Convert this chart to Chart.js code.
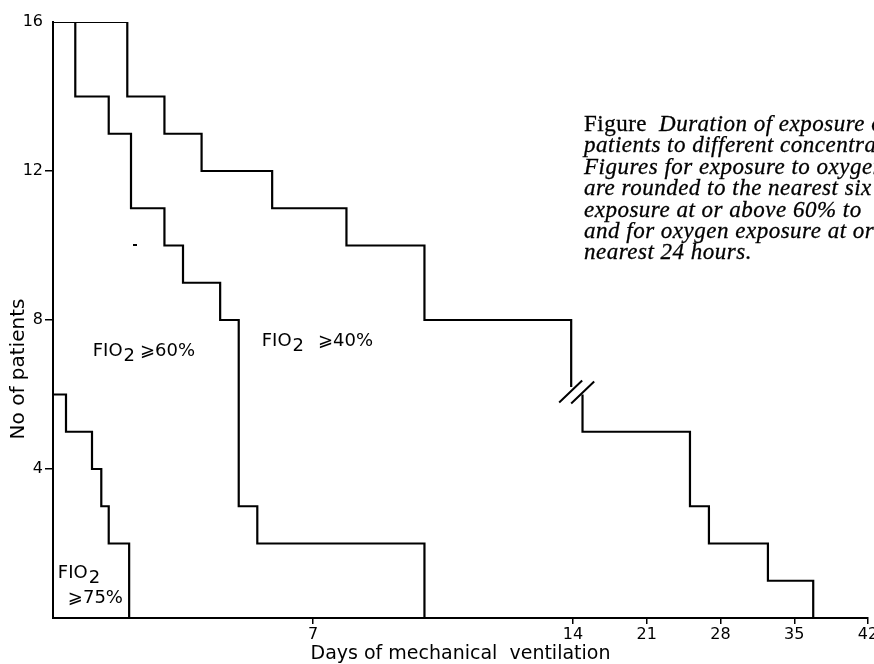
<!DOCTYPE html>
<html>
<head>
<meta charset="utf-8">
<script src="https://cdn.jsdelivr.net/npm/chart.js@4.4.0/dist/chart.umd.min.js"></script>
<style>
  html, body { margin: 0; padding: 0; background: #fff; overflow: hidden; }
  #wrap { width: 874px; height: 664px; }
</style>
</head>
<body>
<div id="wrap"><canvas id="chart-fio2" width="874" height="664"></canvas></div>
<script>
// Days of mechanical ventilation at which the number of patients steps down
const days75 = [0, 0.35, 1.05, 1.3, 1.5, 2.05];
const n75 = [6, 5, 4, 3, 2, 0];
const days60 = [0, 0.6, 1.5, 2.1, 3, 3.5, 4.5, 5, 5.5, 10];
const n60 = [16, 14, 13, 11, 10, 9, 8, 3, 2, 0];
// null entry = gap where the axis is broken after 14 days
const days40 = [0, 2, 3, 4, 5.9, 7.9, 10, 13.95, null, 14.9, 14.9, 25.1, 26.9, 32.5, 36.8];
const n40 = [16, 14, 13, 12, 11, 10, 8, 6.2, null, 6.0, 5, 3, 2, 1, 0];

const xTicks = [7, 14, 21, 28, 35, 42];
const yTicks = [4, 8, 12, 16];

const captionLines = [
  'Duration of exposure of',
  'patients to different concentrations',
  'Figures for exposure to oxygen',
  'are rounded to the nearest six hours',
  'exposure at or above 60% to',
  'and for oxygen exposure at or above',
  'nearest 24 hours.'
];

// beyond 14 days the axis is compressed
const breakDay = 14;
const tailScale = 0.2836;
function toAxis(d) {
  return d <= breakDay ? d : breakDay + (d - breakDay) * tailScale;
}

function steps(days, counts) {
  return days.map((d, i) => ({ x: d === null ? null : toAxis(d), y: counts[i] }));
}

const lineStyle = { borderColor: '#000', borderWidth: 2.2, pointRadius: 0, stepped: 'before', fill: false, spanGaps: false };

const labelsPlugin = {
  id: 'labels',
  afterDraw(chart) {
    const ctx = chart.ctx;
    const xs = chart.scales.x, ys = chart.scales.y;
    const px = d => xs.getPixelForValue(toAxis(d));
    const py = v => ys.getPixelForValue(v);
    ctx.save();
    ctx.fillStyle = '#000';
    ctx.strokeStyle = '#000';

    // y axis title
    ctx.font = '20px "DejaVu Sans"';
    ctx.textAlign = 'center';
    ctx.textBaseline = 'middle';
    ctx.save();
    ctx.translate(19, 369);
    ctx.rotate(-Math.PI / 2);
    ctx.fillText('No of patients', 0, 0);
    ctx.restore();

    // FIO2 labels
    ctx.textAlign = 'left';
    function fio(x, y, rest, gap) {
      ctx.font = '18px "DejaVu Sans"';
      ctx.fillText('FIO', x, y);
      let w = ctx.measureText('FIO').width;
      ctx.fillText('2', x + w + 1, y + 5);
      w += ctx.measureText('2').width + 1;
      if (rest) ctx.fillText(rest, x + w + gap, y);
    }
    fio(px(1.07), py(7.15), '⩾60%', 5);
    fio(px(5.62), py(7.42), '⩾40%', 14);
    fio(px(0.13), py(1.21), '', 0);
    ctx.fillText('⩾75%', px(0.4), py(0.54));

    // stray print mark
    ctx.fillRect(133, 244, 4, 2);

    // axis break marks
    const bx = px(13.95), by = py(6.0);
    ctx.lineWidth = 2;
    ctx.beginPath();
    ctx.moveTo(bx - 12, by + 8); ctx.lineTo(bx + 11, by - 14);
    ctx.moveTo(bx, by + 9); ctx.lineTo(bx + 23, by - 13);
    ctx.stroke();

    // caption
    const cx = 584;
    ctx.textBaseline = 'middle';
    ctx.lineWidth = 0.3;
    ctx.letterSpacing = '0.5px';
    ctx.font = '23px "Liberation Serif"';
    ctx.fillText('Figure', cx, 125);
    ctx.strokeText('Figure', cx, 125);
    const fw = ctx.measureText('Figure').width;
    ctx.font = 'italic 23px "Liberation Serif"';
    captionLines.forEach((t, i) => {
      const x = i === 0 ? cx + fw + 12 : cx;
      const y = 125 + i * 21.4;
      ctx.fillText(t, x, y);
      ctx.strokeText(t, x, y);
    });
    ctx.restore();
  }
};

new Chart(document.getElementById('chart-fio2'), {
  type: 'line',
  data: {
    datasets: [
      Object.assign({ label: 'FIO2 >= 75%', data: steps(days75, n75) }, lineStyle),
      Object.assign({ label: 'FIO2 >= 60%', data: steps(days60, n60) }, lineStyle),
      Object.assign({ label: 'FIO2 >= 40%', data: steps(days40, n40) }, lineStyle)
    ]
  },
  options: {
    responsive: false,
    animation: false,
    devicePixelRatio: 1,
    layout: { padding: { left: 0, right: 6, top: 22, bottom: 0 } },
    plugins: { legend: { display: false }, tooltip: { enabled: false } },
    scales: {
      x: {
        type: 'linear',
        min: 0,
        max: toAxis(42),
        border: { color: '#000', width: 2 },
        grid: { drawOnChartArea: false, color: '#000', lineWidth: 1.5, tickLength: 6 },
        afterBuildTicks: s => { s.ticks = xTicks.map(d => ({ value: toAxis(d) })); },
        afterFit: s => { s.height = 46; s.paddingLeft = 0; s.paddingRight = 0; },
        ticks: {
          color: '#000',
          font: { family: 'DejaVu Sans', size: 16 },
          padding: 1,
          maxRotation: 0,
          autoSkip: false,
          callback: (v, i) => xTicks[i]
        },
        title: {
          display: true,
          text: 'Days of mechanical  ventilation',
          color: '#000',
          font: { family: 'DejaVu Sans', size: 19, lineHeight: 1 },
          padding: { top: 0, bottom: 0 }
        }
      },
      y: {
        type: 'linear',
        min: 0,
        max: 16,
        border: { color: '#000', width: 2 },
        grid: {
          drawOnChartArea: false,
          lineWidth: 1.5,
          tickLength: 8,
          color: c => (c.tick && c.tick.value === 16 ? 'rgba(0,0,0,0)' : '#000')
        },
        afterBuildTicks: s => { s.ticks = yTicks.map(v => ({ value: v })); },
        afterFit: s => { s.width = 53; s.paddingTop = 0; s.paddingBottom = 0; },
        ticks: { color: '#000', font: { family: 'DejaVu Sans', size: 16 }, padding: 2 }
      }
    }
  },
  plugins: [labelsPlugin]
});
</script>
</body>
</html>
